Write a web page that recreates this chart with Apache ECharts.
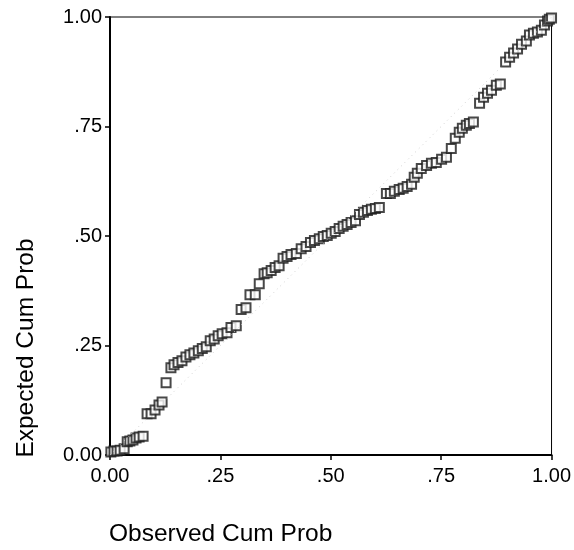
<!DOCTYPE html>
<html>
<head>
<meta charset="utf-8">
<script src="https://cdn.jsdelivr.net/npm/echarts@6/dist/echarts.min.js"></script>
<style>
html,body{margin:0;padding:0;background:#fff;}
#chart{width:574px;height:550px;}
</style>
</head>
<body>
<div id="chart"></div>
<script>
// Observed cumulative probability (x) and expected cumulative probability (y)
var observed = [0.002,0.009,0.016,0.023,0.032,0.039,0.045,0.052,0.059,0.066,0.075,0.084,0.093,0.102,0.111,0.118,0.127,0.138,0.145,0.154,0.163,0.172,0.181,0.190,0.200,0.209,0.218,0.227,0.236,0.245,0.254,0.265,0.274,0.286,0.297,0.308,0.317,0.329,0.338,0.349,0.356,0.365,0.374,0.383,0.392,0.401,0.410,0.422,0.433,0.444,0.454,0.463,0.474,0.483,0.492,0.501,0.510,0.519,0.528,0.537,0.546,0.556,0.565,0.574,0.583,0.592,0.601,0.610,0.626,0.635,0.644,0.655,0.664,0.673,0.683,0.689,0.696,0.705,0.717,0.728,0.739,0.751,0.762,0.773,0.782,0.791,0.798,0.807,0.814,0.823,0.837,0.846,0.855,0.864,0.875,0.884,0.896,0.905,0.914,0.923,0.932,0.943,0.950,0.959,0.968,0.977,0.984,0.991,0.995,1.000];
var expected = [0.007,0.009,0.009,0.011,0.014,0.030,0.032,0.034,0.039,0.041,0.043,0.094,0.094,0.103,0.114,0.121,0.165,0.199,0.206,0.211,0.215,0.224,0.229,0.233,0.238,0.243,0.247,0.261,0.265,0.272,0.277,0.279,0.291,0.295,0.332,0.336,0.366,0.366,0.391,0.414,0.416,0.421,0.428,0.432,0.449,0.453,0.458,0.460,0.471,0.476,0.485,0.490,0.494,0.499,0.501,0.506,0.510,0.517,0.522,0.526,0.531,0.535,0.549,0.554,0.558,0.561,0.563,0.565,0.597,0.597,0.602,0.606,0.609,0.613,0.618,0.634,0.643,0.654,0.661,0.666,0.668,0.675,0.680,0.700,0.723,0.737,0.746,0.753,0.757,0.760,0.803,0.817,0.826,0.833,0.844,0.847,0.897,0.908,0.918,0.927,0.938,0.945,0.959,0.963,0.966,0.970,0.982,0.991,0.995,0.998];
var tickValues = [0, 0.25, 0.5, 0.75, 1];
var tickLabels = ['0.00', '.25', '.50', '.75', '1.00'];
var referenceLine = [[0, 0], [1, 1]];

var points = observed.map(function (x, i) { return [x, expected[i]]; });
function fmt(v) {
  for (var i = 0; i < tickValues.length; i++) {
    if (Math.abs(tickValues[i] - v) < 1e-9) return tickLabels[i];
  }
  return '';
}
var font = 'Liberation Sans, Arial, sans-serif';
var chart = echarts.init(document.getElementById('chart'));
chart.setOption({
  backgroundColor: '#fff',
  animation: false,
  grid: {left: 110, right: 22, top: 17, bottom: 95, show: true, borderColor: '#000', borderWidth: 1, backgroundColor: 'transparent'},
  xAxis: {
    type: 'value', min: 0, max: 1, interval: 0.25,
    axisLine: {show: true, onZero: false, lineStyle: {color: '#000', width: 2}},
    axisTick: {show: true, length: 5, lineStyle: {color: '#000', width: 1.5}},
    axisLabel: {formatter: fmt, color: '#000', fontSize: 20, fontFamily: font, margin: 11},
    splitLine: {show: false}
  },
  yAxis: {
    type: 'value', min: 0, max: 1, interval: 0.25,
    axisLine: {show: true, onZero: false, lineStyle: {color: '#000', width: 2}},
    axisTick: {show: true, length: 5, lineStyle: {color: '#000', width: 1.5}},
    axisLabel: {formatter: fmt, color: '#000', fontSize: 20, fontFamily: font, margin: 8},
    splitLine: {show: false}
  },
  graphic: [
    {type: 'text', left: 109, top: 522, style: {text: 'Observed Cum Prob', fill: '#000', font: '24.5px ' + font}},
    {type: 'text', x: 26, y: 348, rotation: Math.PI / 2, style: {text: 'Expected Cum Prob', fill: '#000', font: '24.5px ' + font, align: 'center', verticalAlign: 'middle'}}
  ],
  series: [
    {
      type: 'line', data: referenceLine, symbol: 'none', silent: true,
      lineStyle: {color: '#cfcfcf', width: 1, type: [1, 4]}
    },
    {
      type: 'scatter', data: points, symbol: 'rect', symbolSize: 9,
      itemStyle: {color: '#fff', borderColor: '#1a1a1a', borderWidth: 2}
    }
  ]
});
</script>
</body>
</html>
